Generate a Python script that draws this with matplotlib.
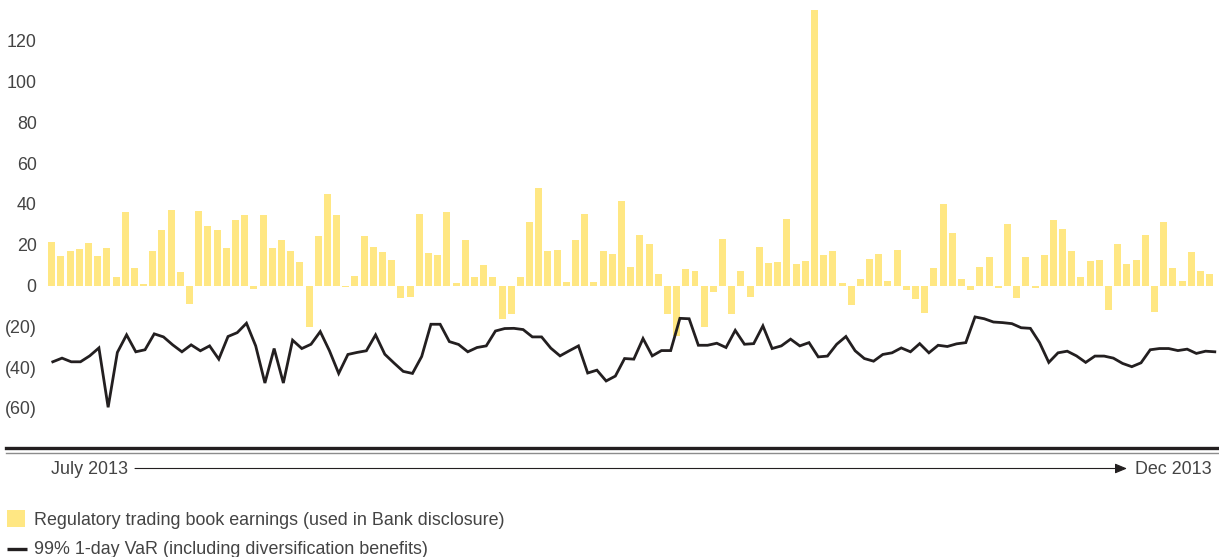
import numpy as np
import matplotlib
matplotlib.use("Agg")
import matplotlib.pyplot as plt
from matplotlib.patches import Rectangle
from matplotlib.lines import Line2D

# ---------------- data ----------------
earnings = [
    21.5, 14.6, 17, 18, 21, 14.6, 18.5, 4.4, 36, 8.8,
    0.5, 17, 27.3, 37, 6.8, -9.3, 36.6, 29.3, 27.3, 18.5,
    32.2, 34.6, -1.5, 34.6, 18.5, 22.4, 17, 11.7, -20.5, 24.4,
    44.9, 34.6, -0.5, 4.9, 24.4, 19, 16.6, 12.7, -6.3, -5.4,
    35.1, 16.1, 15.1, 36.1, 1, 22.4, 4.4, 10.2, 4.4, -16.6,
    -14.1, 4.4, 31.2, 47.8, 17, 17.6, 1.5, 22.4, 35.1, 1.5,
    17, 15.6, 41.5, 9.3, 24.9, 20.5, 5.4, -14.1, -24.9, 8.3,
    7.3, -20.5, -3.4, 22.9, -14.1, 7.3, -5.4, 19, 11.2, 11.7,
    32.7, 10.7, 12.2, 135, 15.1, 17, 1, -9.8, 3.4, 13.2,
    15.6, 2, 17.6, -2, -6.8, -13.7, 8.8, 40, 25.9, 3.4,
    -2.4, 9.3, 14.1, -1, 30.2, -6.3, 14.1, -1, 15.1, 32.2,
    27.8, 17, 4.4, 12.2, 12.7, -12.2, 20.5, 10.7, 12.7, 24.9,
    -13.2, 31.2, 8.8, 2.4, 16.6, 7.3, 5.4,
]

var_99 = [
    -37.4, -35.6, -37.4, -37.4, -34.5, -30.6, -59.7, -32.8, -24.2, -32.5,
    -31.5, -23.7, -25.2, -29.1, -32.5, -29.1, -32.0, -29.6,
    -36.1, -25.0, -23.1, -18.5, -29.6, -47.8, -30.9, -47.8, -26.8, -30.9,
    -28.8, -22.6, -32.0, -43.1, -33.8, -32.8, -32.0, -24.2, -33.7, -38.0,
    -42.1, -43.1,
    -34.8, -19.0, -19.0, -27.5, -28.9, -32.5, -30.4, -29.6, -22.3, -21.1,
    -21.0, -21.6, -25.2, -25.2, -30.7, -34.5, -32.0, -29.6, -42.9, -41.5,
    -46.8,
    -44.4, -35.8, -36.1, -26.0, -34.5, -31.9, -31.9, -16.1, -16.3, -29.3,
    -29.3, -28.3, -30.4, -22.0, -28.8, -28.5, -19.8, -30.9, -29.6, -26.3,
    -29.6, -28.0,
    -35.0, -34.6, -28.8, -25.0, -32.0, -35.8, -37.1, -33.8, -33.0, -30.6,
    -32.5, -28.5, -33.0, -29.3, -29.9, -28.6, -28.0, -15.4, -16.3, -17.9,
    -18.2,
    -18.7, -20.7, -21.0, -28.0, -37.7, -33.0, -32.2, -34.5, -37.7, -34.6,
    -34.6, -35.6, -38.2, -39.8, -37.9, -31.5, -30.9, -30.9, -31.9, -31.2,
    -33.3, -32.2, -32.5,
]

y_ticks = [120, 100, 80, 60, 40, 20, 0, -20, -40, -60]
y_tick_labels = ["120", "100", "80", "60", "40", "20", "0", "(20)", "(40)", "(60)"]

start_label = "July 2013"
end_label = "Dec 2013"
legend_labels = ["Regulatory trading book earnings (used in Bank disclosure)",
                 "99% 1-day VaR (including diversification benefits)"]

# ---------------- style ----------------
BAR_COLOR = "#FFE783"
LINE_COLOR = "#231F20"
TEXT_COLOR = "#444444"
FONT = ["Liberation Sans", "DejaVu Sans"]
FS = 12.9

plt.rcParams["font.family"] = FONT

W, H = 1219, 557
fig = plt.figure(figsize=(W / 100, H / 100), dpi=100)

def fx(px):
    return px / W

def fy(py):
    return 1 - py / H

ax = fig.add_axes([fx(45), fy(430), fx(1218 - 45), 430 / H])

x = np.arange(len(earnings))
ax.bar(x, earnings, width=0.76, color=BAR_COLOR, linewidth=0, zorder=1)
line_x = np.arange(len(var_99)) * 1.0035 + 0.12
ax.plot(line_x, var_99, color=LINE_COLOR, lw=2.0, solid_joinstyle="miter", zorder=2)

ax.set_xlim(-0.729, 126.91)
ax.set_ylim((285.5 - 430) / 2.04, 285.5 / 2.04)
ax.set_yticks(y_ticks)
ax.set_yticklabels(y_tick_labels)
ax.set_xticks([])
ax.tick_params(axis="y", length=0, pad=6.0, labelsize=FS, labelcolor=TEXT_COLOR)
for s in ax.spines.values():
    s.set_visible(False)
ax.patch.set_alpha(0)

# bottom rules
fig.add_artist(Line2D([fx(6), fx(1219)], [fy(447.7), fy(447.7)], color=LINE_COLOR, lw=2.4,
                      transform=fig.transFigure))
fig.add_artist(Line2D([fx(6), fx(1219)], [fy(452.8), fy(452.8)], color="#8c8c8c", lw=1.0,
                      transform=fig.transFigure))

# timeline
fig.text(fx(51), fy(469), start_label, ha="left", va="center", fontsize=FS, color=TEXT_COLOR)
fig.text(fx(1135), fy(469), end_label, ha="left", va="center", fontsize=FS, color=TEXT_COLOR)
fig.add_artist(matplotlib.patches.FancyArrowPatch(
    (fx(135), fy(468.5)), (fx(1127), fy(468.5)), transform=fig.transFigure,
    arrowstyle="-|>,head_length=0.6,head_width=0.25", mutation_scale=12,
    color=LINE_COLOR, lw=0.8, shrinkA=0, shrinkB=0))

# legend
fig.add_artist(Rectangle((fx(7), fy(527)), fx(18), 17 / H, transform=fig.transFigure,
                         facecolor=BAR_COLOR, edgecolor="none"))
fig.text(fx(34), fy(520.5), legend_labels[0], ha="left", va="center", fontsize=FS, color=TEXT_COLOR)
fig.add_artist(Line2D([fx(7), fx(27)], [fy(548.5), fy(548.5)], color=LINE_COLOR, lw=2.4,
                      transform=fig.transFigure, solid_capstyle="butt"))
fig.text(fx(34), fy(549), legend_labels[1], ha="left", va="center", fontsize=FS, color=TEXT_COLOR)

fig.savefig("out.png", dpi=100)
